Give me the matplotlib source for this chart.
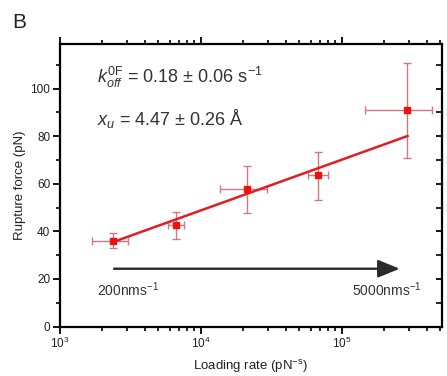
import numpy as np
import matplotlib
matplotlib.use("Agg")
import matplotlib.pyplot as plt
from matplotlib.ticker import LogLocator, MultipleLocator, NullFormatter

plt.rcParams['font.family'] = ['Liberation Sans', 'DejaVu Sans']
plt.rcParams['mathtext.fontset'] = 'custom'
plt.rcParams['mathtext.rm'] = 'Liberation Sans'
plt.rcParams['mathtext.it'] = 'Liberation Sans:italic'
plt.rcParams['mathtext.bf'] = 'Liberation Sans:bold'

# data
loading_rate = [2377, 6710, 21300, 67600, 292000]
rupture_force = [35.8, 42.8, 57.7, 63.6, 91.0]
x_err_low = [1678, 5860, 13600, 57600, 145000]
x_err_high = [3048, 7570, 29200, 80000, 437000]
y_err_low = [32.9, 36.9, 47.9, 53.3, 71.0]
y_err_high = [39.2, 48.1, 67.4, 73.3, 110.6]
fit_rate = [2377, 292000]
fit_force = [35.5, 80.1]
arrow_rate = [2420, 257000]
arrow_force = [24.3, 24.3]

fig = plt.figure(figsize=(4.47, 3.76), dpi=100)
ax = fig.add_axes([0.134, 0.1316, 0.854, 0.7514])

lr = np.array(loading_rate)
rf = np.array(rupture_force)
xerr = [lr - np.array(x_err_low), np.array(x_err_high) - lr]
yerr = [rf - np.array(y_err_low), np.array(y_err_high) - rf]

ax.errorbar(lr, rf, xerr=xerr, yerr=yerr, fmt='none', ecolor='#d47880',
            elinewidth=1.0, capsize=3, capthick=1.0, zorder=2)
ax.plot(fit_rate, fit_force, color='#e01e24', lw=1.8, zorder=3)
ax.plot(lr, rf, 's', color='#ee1111', markersize=5, zorder=4)

ax.annotate('', xy=(arrow_rate[1], arrow_force[1]), xytext=(arrow_rate[0], arrow_force[0]),
            arrowprops=dict(arrowstyle='-|>,head_length=1.1,head_width=0.45',
                            color='#2a2a2a', lw=1.7, mutation_scale=12,
                            shrinkA=0, shrinkB=0))

ax.set_xscale('log')
ax.set_xlim(1e3, 5.1e5)
ax.set_ylim(0, 118.8)

ax.yaxis.set_major_locator(MultipleLocator(20))
ax.yaxis.set_minor_locator(MultipleLocator(10))
ax.xaxis.set_major_locator(LogLocator(base=10, numticks=10))
ax.xaxis.set_minor_locator(LogLocator(base=10, subs=np.arange(2, 10), numticks=10))
ax.xaxis.set_minor_formatter(NullFormatter())

for s in ax.spines.values():
    s.set_linewidth(1.6)

ax.tick_params(axis='both', which='major', direction='out', length=5, width=1.3,
               labelsize=8.5, colors='black', labelcolor='#222222', pad=2)
ax.tick_params(axis='both', which='minor', direction='out', length=3, width=1.2)
ax.tick_params(axis='x', which='both', top=True)
ax.tick_params(axis='y', which='both', right=True)

# right ticks inward, uniform length
for t in ax.yaxis.get_major_ticks() + ax.yaxis.get_minor_ticks():
    t.tick2line.set_marker(matplotlib.lines.TICKLEFT)
    t.tick2line.set_markersize(4)

ax.set_xlabel('Loading rate (pN$^{\\mathregular{-s}}$)', fontsize=9.5, color='#222222', labelpad=5)
ax.set_ylabel('Rupture force (pN)', fontsize=9.5, color='#222222', labelpad=3)

ax.text(0.097, 0.861, '$k_{off}^{\\mathregular{0F}}$ = 0.18 ± 0.06 s$^{\\mathregular{-1}}$',
        transform=ax.transAxes, fontsize=13, color='#333333', va='baseline')
ax.text(0.097, 0.713, '$x_{u}$ = 4.47 ± 0.26 Å',
        transform=ax.transAxes, fontsize=13, color='#333333', va='baseline')

ax.text(0.097, 0.108, '200nms$^{\\mathregular{-1}}$', transform=ax.transAxes,
        fontsize=10, color='#333333', va='baseline')
ax.text(0.764, 0.108, '5000nms$^{\\mathregular{-1}}$', transform=ax.transAxes,
        fontsize=10, color='#333333', va='baseline')

fig.text(0.027, 0.925, 'B', fontsize=15, color='#222222', va='baseline')

fig.savefig('out.png', dpi=100)
